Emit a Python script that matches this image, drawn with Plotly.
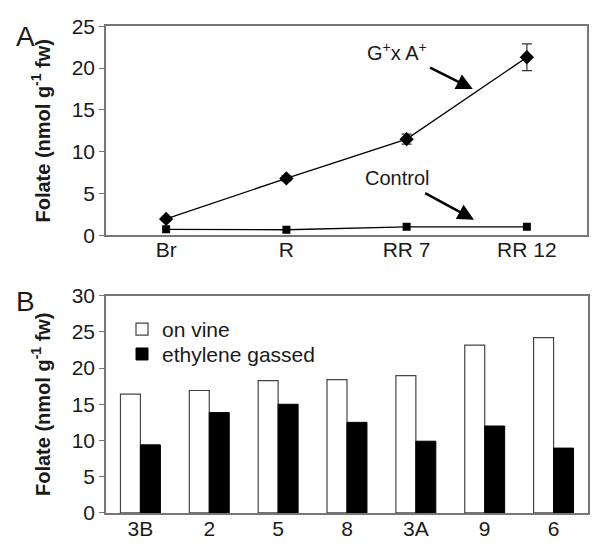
import plotly.graph_objects as go

# Panel A data
stages = ["Br", "R", "RR 7", "RR 12"]
gxa_vals = [1.95, 6.8, 11.5, 21.3]
gxa_err = [0.2, 0.3, 0.6, 1.6]
control_vals = [0.7, 0.65, 1.0, 1.0]
control_err = [0.1, 0.1, 0.1, 0.1]

# Panel B data
lines = ["3B", "2", "5", "8", "3A", "9", "6"]
on_vine = [16.4, 16.9, 18.25, 18.4, 18.95, 23.15, 24.2]
ethylene = [9.4, 13.85, 15.0, 12.5, 9.9, 12.0, 8.95]

FONT = "Liberation Sans, Arial, sans-serif"
AX = "#777777"

fig = go.Figure()

fig.add_trace(go.Scatter(
    x=stages, y=gxa_vals, mode="lines+markers", name="G+x A+",
    line=dict(color="black", width=1.3),
    marker=dict(symbol="diamond", size=11, color="black"),
    error_y=dict(type="data", array=gxa_err, color="#333", thickness=1.2, width=5),
    xaxis="x", yaxis="y", showlegend=False))
fig.add_trace(go.Scatter(
    x=stages, y=control_vals, mode="lines+markers", name="Control",
    line=dict(color="black", width=1.3),
    marker=dict(symbol="square", size=8, color="black"),
    error_y=dict(type="data", array=control_err, color="#333", thickness=1, width=3),
    xaxis="x", yaxis="y", showlegend=False))

fig.add_trace(go.Bar(
    x=lines, y=on_vine, name="on vine", legend="legend",
    marker=dict(color="white", line=dict(color="#444", width=1.2)),
    xaxis="x2", yaxis="y2"))
fig.add_trace(go.Bar(
    x=lines, y=ethylene, name="ethylene gassed", legend="legend2",
    marker=dict(color="black", line=dict(color="black", width=1)),
    xaxis="x2", yaxis="y2"))

W, H = 593, 546
def px(x):
    return x / W
def py(y):
    return 1 - y / H

axis_common = dict(showgrid=False, zeroline=False, showline=True, linecolor=AX,
                   linewidth=1.5, mirror=True,
                   tickfont=dict(family=FONT, size=21, color="#1a1a1a"))

title_txt = "Folate (nmol g<sup>-1</sup> fw)"
leg_common = dict(xanchor="left", yanchor="top", bgcolor="rgba(0,0,0,0)",
                  font=dict(family=FONT, size=21, color="#1a1a1a"))

fig.update_layout(
    width=W, height=H,
    margin=dict(l=0, r=0, t=0, b=0),
    paper_bgcolor="white", plot_bgcolor="white",
    font=dict(family=FONT, color="#1a1a1a"),
    barmode="group", bargap=0.42, bargroupgap=0,
    xaxis=dict(domain=[px(106), px(587)], anchor="y", range=[-0.5, 3.5],
               ticks="", ticklabelstandoff=-5, **axis_common),
    yaxis=dict(domain=[py(233), py(15)], anchor="x", range=[0, 25], dtick=5,
               ticks="outside", ticklen=5, tickcolor=AX,
               title=dict(text=title_txt, font=dict(family=FONT, size=20, weight="bold"),
                          standoff=16),
               **axis_common),
    xaxis2=dict(domain=[px(106), px(588)], anchor="y2", range=[-0.5, 6.5],
                ticks="", ticklabelstandoff=-4, **axis_common),
    yaxis2=dict(domain=[py(523), py(296)], anchor="x2", range=[0, 30], dtick=5,
                ticks="outside", ticklen=5, tickcolor=AX,
                title=dict(text=title_txt, font=dict(family=FONT, size=20, weight="bold"),
                           standoff=16),
                **axis_common),
    legend=dict(x=px(122), y=py(310), **leg_common),
    legend2=dict(x=px(122), y=py(336), **leg_common),
    showlegend=True,
)

ann = []
# Panel letters
ann.append(dict(text="A", x=px(25), y=py(26), xref="paper", yref="paper",
                xanchor="center", yanchor="middle",
                showarrow=False, font=dict(family=FONT, size=28, color="#1a1a1a")))
ann.append(dict(text="B", x=px(25), y=py(302), xref="paper", yref="paper",
                xanchor="center", yanchor="middle",
                showarrow=False, font=dict(family=FONT, size=28, color="#1a1a1a")))
# Series labels with arrows (text sits at the arrow tail)
ann.append(dict(text="G<sup>+</sup>x A<sup>+</sup>", x=2.55, y=17.5, xref="x", yref="y",
                ax=-76, ay=-38, showarrow=True, arrowhead=2, arrowsize=1.3,
                arrowwidth=2.5, arrowcolor="black", startstandoff=6,
                font=dict(family=FONT, size=20, color="#1a1a1a")))
ann.append(dict(text="Control", x=2.56, y=1.85, xref="x", yref="y",
                ax=-77, ay=-42, showarrow=True, arrowhead=2, arrowsize=1.3,
                arrowwidth=2.5, arrowcolor="black", startstandoff=6,
                font=dict(family=FONT, size=20, color="#1a1a1a")))
fig.update_layout(annotations=ann)

fig.write_html("out.html", config={"displayModeBar": False},
               post_script="document.body.style.margin='0';document.body.style.overflow='hidden';")
